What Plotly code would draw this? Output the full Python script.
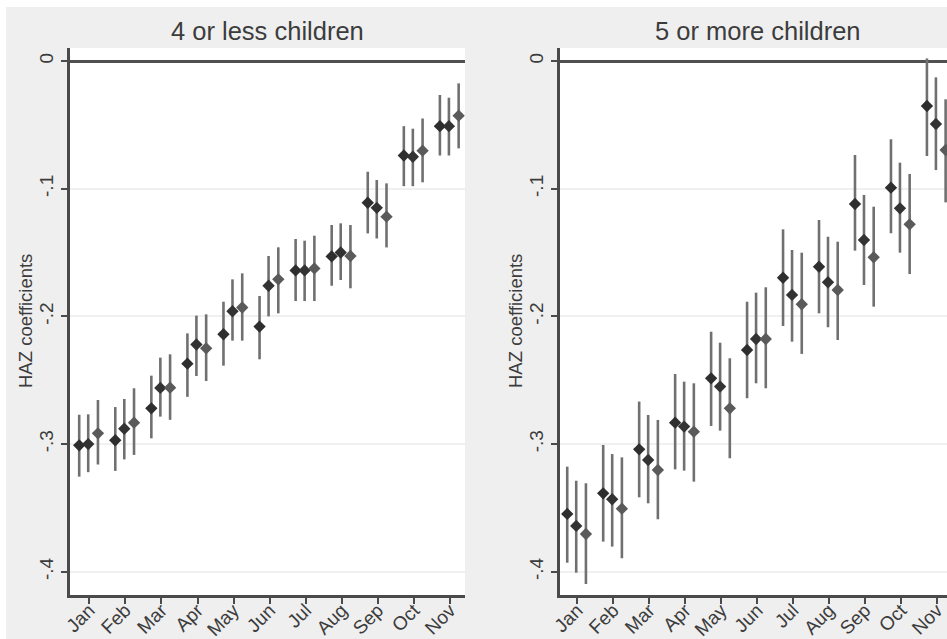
import plotly.graph_objects as go

# Month labels on the x axis
months = ["Jan", "Feb", "Mar", "Apr", "May", "Jun", "Jul", "Aug", "Sep", "Oct", "Nov"]

# Panel titles and shared y-axis title
panel_titles = ["4 or less children", "5 or more children"]
y_title = "HAZ coefficients"

# ---- 4 or less children: three estimates per month (point, lower CI, upper CI)
few_a = [-0.301, -0.297, -0.272, -0.237, -0.214, -0.208, -0.164, -0.153, -0.111, -0.074, -0.051]
few_a_lo = [-0.3255, -0.321, -0.2955, -0.263, -0.2386, -0.2336, -0.188, -0.176, -0.135, -0.098, -0.074]
few_a_hi = [-0.277, -0.271, -0.2464, -0.2133, -0.1885, -0.184, -0.1394, -0.1284, -0.0867, -0.051, -0.0266]

few_b = [-0.300, -0.288, -0.256, -0.222, -0.196, -0.176, -0.164, -0.150, -0.115, -0.075, -0.051]
few_b_lo = [-0.322, -0.312, -0.2785, -0.2467, -0.219, -0.200, -0.188, -0.1715, -0.139, -0.098, -0.074]
few_b_hi = [-0.2767, -0.2647, -0.2323, -0.1994, -0.171, -0.1527, -0.1407, -0.1271, -0.0932, -0.053, -0.0287]

few_c = [-0.2916, -0.2832, -0.2558, -0.225, -0.193, -0.171, -0.1624, -0.1527, -0.1219, -0.0702, -0.0428]
few_c_lo = [-0.316, -0.3085, -0.281, -0.2506, -0.219, -0.1976, -0.188, -0.178, -0.146, -0.095, -0.0684]
few_c_hi = [-0.2655, -0.2563, -0.2297, -0.1984, -0.1663, -0.1459, -0.1368, -0.1284, -0.0958, -0.045, -0.0175]

# ---- 5 or more children
many_a = [-0.3547, -0.3386, -0.3041, -0.2832, -0.2485, -0.2263, -0.1697, -0.1611, -0.112, -0.0992, -0.0352]
many_a_lo = [-0.3929, -0.3764, -0.3417, -0.3198, -0.2858, -0.2641, -0.2075, -0.1976, -0.1485, -0.1349, -0.0744]
many_a_hi = [-0.3177, -0.3007, -0.2667, -0.2451, -0.212, -0.1885, -0.1318, -0.1245, -0.0736, -0.0613, 0.002]

many_b = [-0.3641, -0.3432, -0.3125, -0.2863, -0.255, -0.2177, -0.1832, -0.1733, -0.1402, -0.1154, -0.0493]
many_b_lo = [-0.4007, -0.3803, -0.3464, -0.3208, -0.2895, -0.2524, -0.2198, -0.2085, -0.1754, -0.1501, -0.0854]
many_b_hi = [-0.3287, -0.3078, -0.2772, -0.2511, -0.2206, -0.1814, -0.148, -0.1376, -0.1049, -0.0796, -0.0128]

many_c = [-0.3704, -0.3506, -0.3203, -0.2903, -0.272, -0.2177, -0.1905, -0.1793, -0.1537, -0.1279, -0.0697]
many_c_lo = [-0.4096, -0.3894, -0.3589, -0.3294, -0.3111, -0.2563, -0.2294, -0.2185, -0.1924, -0.1668, -0.1107]
many_c_hi = [-0.3307, -0.3104, -0.2811, -0.2524, -0.2328, -0.1772, -0.1501, -0.1415, -0.1141, -0.0885, -0.030]

# y-axis ticks
y_ticks = [0, -0.1, -0.2, -0.3, -0.4]
y_tick_text = ["0", "-.1", "-.2", "-.3", "-.4"]

# ---- styling
W, H = 947, 639
FONT = "Liberation Sans, Arial, sans-serif"
TEXT = "#3c3c3c"
AXIS = "#4a4a4a"
BG = "#efefef"
DODGE = [-0.28, -0.03, 0.24]
MARK_COLORS = ["#2e2e2e", "#333333", "#5a5a5a"]
BAR_COLOR = "#707070"

fig = go.Figure()

panels = [
    ("x", "y", [(few_a, few_a_lo, few_a_hi), (few_b, few_b_lo, few_b_hi), (few_c, few_c_lo, few_c_hi)]),
    ("x2", "y2", [(many_a, many_a_lo, many_a_hi), (many_b, many_b_lo, many_b_hi), (many_c, many_c_lo, many_c_hi)]),
]

for xa, ya, series in panels:
    for k, (coef, lo, hi) in enumerate(series):
        xs = [i + 1 + DODGE[k] for i in range(len(months))]
        fig.add_trace(go.Scatter(
            x=xs, y=coef, xaxis=xa, yaxis=ya, mode="markers",
            marker=dict(symbol="diamond", size=9.5, color=MARK_COLORS[k], line=dict(width=0)),
            error_y=dict(type="data", symmetric=False,
                         array=[h - c for h, c in zip(hi, coef)],
                         arrayminus=[c - l for c, l in zip(coef, lo)],
                         color=BAR_COLOR, thickness=2.6, width=0),
            showlegend=False, hoverinfo="skip",
        ))


def px_x(p):
    return p / W


def px_y(p):
    return (H - p) / H


y_dom = [px_y(595), px_y(48)]


def xaxis_def(domain, rng, anchor):
    return dict(
        domain=domain, range=rng, anchor=anchor, automargin=False,
        tickmode="array", tickvals=list(range(1, 12)), ticktext=months,
        tickangle=-45, ticks="outside", ticklen=6, tickwidth=2, tickcolor=AXIS,
        ticklabelstandoff=-12,
        showline=True, linecolor=AXIS, linewidth=2.5, showgrid=False, zeroline=False,
        tickfont=dict(family=FONT, size=19, color=TEXT),
    )


def yaxis_def(anchor):
    return dict(
        domain=y_dom, range=[-0.4182, 0.0102], anchor=anchor, automargin=False,
        tickmode="array", tickvals=y_ticks, ticktext=y_tick_text, tickangle=-90,
        ticks="outside", ticklen=6, tickwidth=2, tickcolor=AXIS, ticklabelstandoff=1,
        showline=True, linecolor=AXIS, linewidth=2.5,
        showgrid=True, gridcolor="#f0f0f0", gridwidth=1.5,
        zeroline=True, zerolinecolor="#505050", zerolinewidth=2.6,
        tickfont=dict(family=FONT, size=19, color=TEXT),
    )


annotations = []
for cx, txt in zip([267.5, 757.5], panel_titles):
    annotations.append(dict(
        text=txt, xref="paper", yref="paper", x=px_x(cx), y=px_y(31),
        showarrow=False, xanchor="center", yanchor="middle",
        font=dict(family=FONT, size=25.5, color=TEXT)))
for cx in [25.5, 515.5]:
    annotations.append(dict(
        text=y_title, xref="paper", yref="paper", x=px_x(cx), y=px_y(321.5),
        showarrow=False, xanchor="center", yanchor="middle", textangle=-90,
        font=dict(family=FONT, size=18.5, color=TEXT)))

fig.update_layout(
    width=W, height=H, margin=dict(l=0, r=0, t=0, b=0),
    paper_bgcolor=BG, plot_bgcolor="white",
    xaxis=xaxis_def([px_x(70), px_x(465)], [0.465, 11.416], "y"),
    xaxis2=xaxis_def([px_x(560), 1.0], [0.519, 11.278], "y2"),
    yaxis=yaxis_def("x"),
    yaxis2=yaxis_def("x2"),
    shapes=[
        # thin white strips along the top and left edges of the page
        dict(type="rect", xref="paper", yref="paper", x0=0, x1=1.0, y0=px_y(7), y1=1.0,
             fillcolor="white", line=dict(width=0), layer="below"),
        dict(type="rect", xref="paper", yref="paper", x0=0, x1=px_x(6), y0=0, y1=1.0,
             fillcolor="white", line=dict(width=0), layer="below"),
    ],
    annotations=annotations,
)

fig.write_html("out.html")
